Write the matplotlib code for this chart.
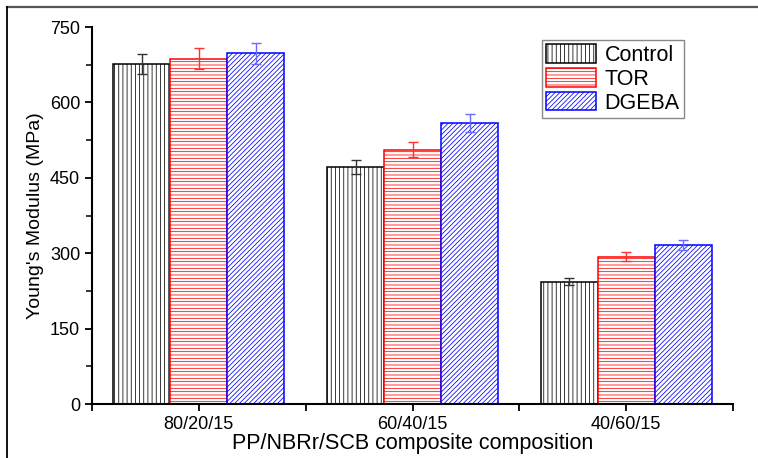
import numpy as np
import matplotlib.pyplot as plt
from matplotlib.lines import Line2D
from matplotlib.ticker import MultipleLocator, FixedLocator

plt.rcParams['font.family'] = ['Liberation Sans', 'DejaVu Sans']
plt.rcParams['hatch.linewidth'] = 0.55

# data
categories = ['80/20/15', '60/40/15', '40/60/15']
series = ['Control', 'TOR', 'DGEBA']
control = [676, 472, 243]
tor = [687, 506, 293]
dgeba = [698, 559, 316]
control_err = [20, 14, 7]
tor_err = [21, 15, 9]
dgeba_err = [21, 17, 10]

values = [control, tor, dgeba]
errors = [control_err, tor_err, dgeba_err]
colors = ['black', 'red', 'blue']
err_colors = ['#333333', '#ff3030', '#6a6aff']
hatches = ['||||', '-----', '///////']

fig = plt.figure(figsize=(7.58, 4.58), dpi=100)
ax = fig.add_axes([0.1214, 0.1179, 0.8457, 0.8231])

x = np.arange(len(categories))
w = 0.8 / 3
for i in range(3):
    ax.bar(x + (i - 1) * w, values[i], w, color='white', edgecolor=colors[i],
           hatch=hatches[i], linewidth=1.1, label=series[i])
    ax.errorbar(x + (i - 1) * w, values[i], yerr=errors[i], fmt='none',
                ecolor=err_colors[i], elinewidth=1.0, capsize=3.5, capthick=1.0)

ax.set_xlim(-0.5, 2.5)
ax.set_ylim(0, 750)
ax.set_xticks(x)
ax.set_xticklabels(categories, fontsize=13)
ax.xaxis.set_minor_locator(FixedLocator([-0.5, 0.5, 1.5, 2.5]))
ax.yaxis.set_major_locator(MultipleLocator(150))
ax.yaxis.set_minor_locator(MultipleLocator(75))
ax.tick_params(axis='y', labelsize=13)
ax.tick_params(which='major', direction='out', length=5, width=1.3)
ax.tick_params(which='minor', direction='out', length=4, width=1.1)
ax.tick_params(axis='x', which='minor', length=5, width=1.3)

for s in ['top', 'right']:
    ax.spines[s].set_visible(False)
for s in ['left', 'bottom']:
    ax.spines[s].set_linewidth(1.5)

ax.set_ylabel("Young's Modulus (MPa)", fontsize=14, labelpad=4)
ax.set_xlabel('PP/NBRr/SCB composite composition', fontsize=15.5, labelpad=0)

fig.legend(loc='upper left', bbox_to_anchor=(0.715, 0.913), fontsize=15.5,
           frameon=True, fancybox=False, edgecolor='#888888', framealpha=1,
           handlelength=2.3, handleheight=0.95, labelspacing=0.1,
           borderpad=0.2, handletextpad=0.4, borderaxespad=0)

# outer frame of the image
fig.add_artist(Line2D([7 / 758, 1], [1 - 7 / 458, 1 - 7 / 458], color='#555555', lw=1.6))
fig.add_artist(Line2D([7 / 758, 7 / 758], [0, 1 - 7 / 458], color='black', lw=1.3))

fig.savefig('out.png', dpi=100)
